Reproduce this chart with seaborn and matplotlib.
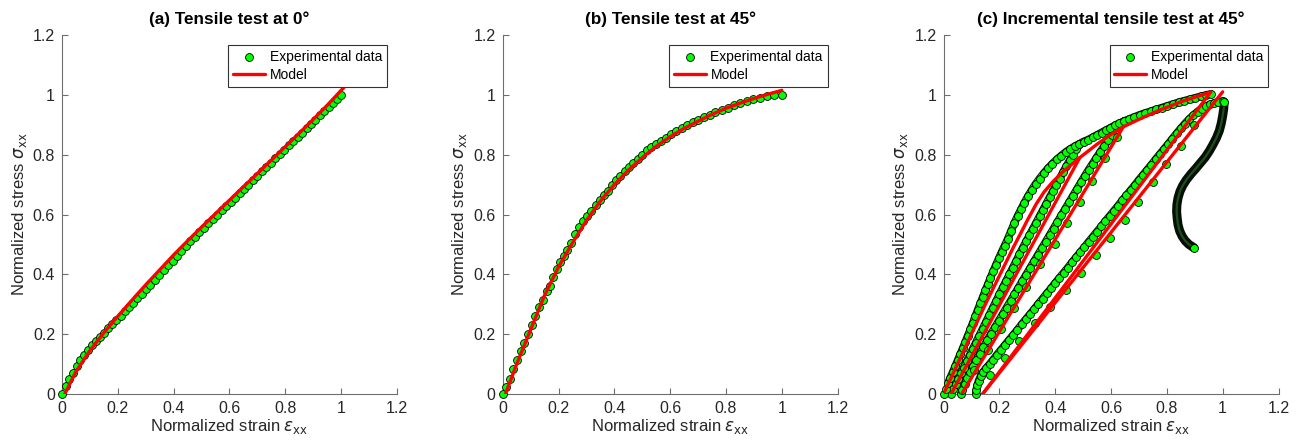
import matplotlib
matplotlib.use('Agg')
import matplotlib.pyplot as plt
import seaborn as sns

# ---------------- (a) tensile test at 0 deg ----------------
strain_a = [0, 0.013, 0.026, 0.039, 0.052, 0.066, 0.08, 0.094, 0.108, 0.122, 0.136, 0.15, 0.165, 0.18,
            0.195, 0.21, 0.225, 0.24, 0.255, 0.27, 0.285, 0.3, 0.316, 0.332, 0.348, 0.364, 0.38, 0.396,
            0.412, 0.428, 0.444, 0.46, 0.476, 0.492, 0.508, 0.524, 0.54, 0.556, 0.572, 0.588, 0.604,
            0.62, 0.636, 0.652, 0.668, 0.684, 0.7, 0.716, 0.732, 0.748, 0.764, 0.78, 0.796, 0.812,
            0.828, 0.844, 0.86, 0.876, 0.892, 0.908, 0.924, 0.94, 0.955, 0.97, 0.985, 1.0]
stress_a = [0, 0.028, 0.05, 0.07, 0.093, 0.112, 0.13, 0.148, 0.163, 0.178, 0.192, 0.205, 0.219, 0.233,
            0.247, 0.262, 0.276, 0.29, 0.305, 0.32, 0.335, 0.35, 0.366, 0.382, 0.398, 0.414, 0.43, 0.446,
            0.462, 0.478, 0.494, 0.51, 0.525, 0.54, 0.555, 0.57, 0.585, 0.6, 0.614, 0.627, 0.642,
            0.656, 0.671, 0.685, 0.7, 0.715, 0.73, 0.744, 0.759, 0.773, 0.788, 0.802, 0.816, 0.831,
            0.845, 0.86, 0.874, 0.888, 0.903, 0.917, 0.931, 0.946, 0.959, 0.973, 0.987, 1.0]
model_strain_a = [0.01, 0.05, 0.1, 0.15, 0.2, 0.25, 0.3, 0.35, 0.4, 0.45, 0.5, 0.55, 0.6, 0.65, 0.7,
                  0.75, 0.8, 0.85, 0.9, 0.95, 1.01]
model_stress_a = [0, 0.075, 0.145, 0.205, 0.26, 0.313, 0.365, 0.415, 0.465, 0.512, 0.558, 0.603, 0.648,
                  0.693, 0.737, 0.782, 0.827, 0.872, 0.918, 0.965, 1.025]

# ---------------- (b) tensile test at 45 deg ----------------
strain_b = [0, 0.012, 0.025, 0.038, 0.052, 0.065, 0.078, 0.091, 0.104, 0.117, 0.13, 0.143, 0.157, 0.17,
            0.18, 0.193, 0.205, 0.218, 0.232, 0.246, 0.26, 0.274, 0.289, 0.303, 0.318, 0.333, 0.347,
            0.362, 0.377, 0.392, 0.407, 0.422, 0.437, 0.452, 0.468, 0.484, 0.5, 0.516, 0.533, 0.55,
            0.567, 0.585, 0.603, 0.622, 0.641, 0.66, 0.68, 0.7, 0.72, 0.741, 0.762, 0.784, 0.806,
            0.828, 0.851, 0.874, 0.898, 0.922, 0.946, 0.972, 1.0]
stress_b = [0, 0.022, 0.05, 0.083, 0.113, 0.143, 0.172, 0.2, 0.23, 0.26, 0.29, 0.315, 0.345, 0.362,
            0.39, 0.418, 0.44, 0.462, 0.482, 0.505, 0.535, 0.558, 0.577, 0.594, 0.612, 0.631, 0.648,
            0.664, 0.68, 0.7, 0.716, 0.73, 0.744, 0.759, 0.771, 0.785, 0.8, 0.814, 0.825, 0.836,
            0.846, 0.857, 0.868, 0.879, 0.889, 0.899, 0.909, 0.917, 0.925, 0.933, 0.941, 0.949, 0.957,
            0.965, 0.973, 0.98, 0.986, 0.99, 0.995, 1.0, 1.0]
model_strain_b = [0.01, 0.05, 0.1, 0.15, 0.2, 0.25, 0.3, 0.35, 0.4, 0.45, 0.5, 0.55, 0.6, 0.65, 0.7,
                  0.75, 0.8, 0.85, 0.9, 0.95, 1.0]
model_stress_b = [0, 0.1, 0.215, 0.33, 0.425, 0.505, 0.58, 0.645, 0.7, 0.748, 0.79, 0.828, 0.86, 0.888,
                  0.912, 0.935, 0.955, 0.972, 0.988, 1.002, 1.015]

# ---------------- (c) incremental tensile test at 45 deg ----------------
# loading envelope (dense)
env_x = [0, 0.008, 0.016, 0.024, 0.033, 0.042, 0.051, 0.06, 0.069, 0.078, 0.087, 0.096, 0.105, 0.114,
         0.123, 0.132, 0.141, 0.15, 0.159, 0.168, 0.178, 0.188, 0.198, 0.208, 0.219, 0.23, 0.242, 0.254,
         0.266, 0.278, 0.29, 0.303, 0.316, 0.33, 0.344, 0.359, 0.374, 0.39, 0.406, 0.422, 0.438, 0.454,
         0.47, 0.486, 0.502, 0.518, 0.534, 0.55, 0.566, 0.582, 0.598, 0.614, 0.63, 0.646, 0.665, 0.684,
         0.703, 0.722, 0.742, 0.762, 0.782, 0.802, 0.822, 0.842, 0.862, 0.882, 0.902, 0.922, 0.94, 0.957]
env_y = [0, 0.018, 0.036, 0.054, 0.073, 0.093, 0.113, 0.133, 0.153, 0.174, 0.195, 0.216, 0.238, 0.26,
         0.282, 0.303, 0.325, 0.346, 0.367, 0.388, 0.41, 0.432, 0.453, 0.474, 0.496, 0.518, 0.545, 0.572,
         0.596, 0.618, 0.64, 0.662, 0.682, 0.702, 0.72, 0.738, 0.754, 0.77, 0.784, 0.797, 0.809, 0.819,
         0.828, 0.836, 0.844, 0.85, 0.858, 0.866, 0.874, 0.882, 0.89, 0.898, 0.905, 0.912, 0.919, 0.926,
         0.933, 0.939, 0.945, 0.951, 0.957, 0.963, 0.969, 0.975, 0.98, 0.985, 0.99, 0.995, 0.999, 1.003]
# reloading after cycle 1 (dense)
rel1_x = [0.026, 0.034, 0.043, 0.052, 0.062, 0.072, 0.083, 0.094, 0.105, 0.116, 0.128, 0.14, 0.152,
          0.164, 0.176, 0.188, 0.2, 0.212, 0.224, 0.236, 0.248, 0.26, 0.272, 0.284, 0.296, 0.308, 0.32,
          0.332, 0.344, 0.356, 0.368, 0.38, 0.392, 0.404, 0.416, 0.428, 0.44, 0.452, 0.464, 0.476, 0.486]
rel1_y = [0, 0.016, 0.033, 0.05, 0.069, 0.088, 0.109, 0.13, 0.151, 0.172, 0.195, 0.218, 0.241, 0.264,
          0.287, 0.31, 0.333, 0.356, 0.378, 0.4, 0.422, 0.444, 0.467, 0.489, 0.51, 0.531, 0.552, 0.573,
          0.594, 0.615, 0.636, 0.657, 0.678, 0.699, 0.72, 0.741, 0.761, 0.781, 0.8, 0.818, 0.834]
# reloading after cycle 2 (dense)
rel2_x = [0.062, 0.068, 0.076, 0.085, 0.095, 0.106, 0.118, 0.13, 0.143, 0.156, 0.17, 0.184, 0.198,
          0.212, 0.226, 0.24, 0.254, 0.268, 0.282, 0.296, 0.31, 0.324, 0.338, 0.352, 0.366, 0.38,
          0.394, 0.408, 0.422, 0.436, 0.45, 0.464, 0.478, 0.492, 0.506, 0.52, 0.534, 0.548, 0.562,
          0.576, 0.59, 0.604, 0.618, 0.632, 0.646]
rel2_y = [0, 0.015, 0.033, 0.052, 0.072, 0.093, 0.114, 0.135, 0.157, 0.179, 0.201, 0.223, 0.245,
          0.267, 0.289, 0.311, 0.333, 0.355, 0.377, 0.399, 0.421, 0.443, 0.465, 0.487, 0.509, 0.531,
          0.553, 0.575, 0.597, 0.619, 0.641, 0.663, 0.685, 0.707, 0.729, 0.75, 0.77, 0.79, 0.81,
          0.829, 0.848, 0.866, 0.883, 0.899, 0.912]
# reloading after cycle 3 up to the maximum (dense)
rel3_x = [0.116, 0.118, 0.121, 0.126, 0.133, 0.142, 0.153, 0.165, 0.178, 0.192, 0.206, 0.22, 0.235,
          0.25, 0.265, 0.28, 0.295, 0.31, 0.325, 0.34, 0.355, 0.37, 0.385, 0.4, 0.415, 0.43, 0.445,
          0.46, 0.475, 0.49, 0.505, 0.52, 0.535, 0.55, 0.565, 0.58, 0.595, 0.61, 0.625, 0.64, 0.655,
          0.67, 0.685, 0.7, 0.715, 0.73, 0.745, 0.76, 0.775, 0.79, 0.805, 0.82, 0.835, 0.85, 0.865,
          0.88, 0.895, 0.91, 0.925, 0.94, 0.955, 0.97, 0.985, 1.0, 1.005]
rel3_y = [0, 0.015, 0.03, 0.045, 0.06, 0.074, 0.087, 0.1, 0.115, 0.132, 0.148, 0.164, 0.181, 0.198,
          0.215, 0.233, 0.25, 0.267, 0.284, 0.302, 0.319, 0.336, 0.353, 0.371, 0.388, 0.405, 0.422,
          0.44, 0.457, 0.474, 0.491, 0.509, 0.526, 0.543, 0.56, 0.578, 0.595, 0.612, 0.629, 0.647,
          0.664, 0.681, 0.698, 0.716, 0.733, 0.75, 0.767, 0.785, 0.802, 0.819, 0.836, 0.854, 0.871,
          0.888, 0.904, 0.919, 0.932, 0.944, 0.954, 0.962, 0.968, 0.973, 0.977, 0.979, 0.977]
# post-peak softening (very dense)
fail_x = [1.005, 1.004, 1.0, 0.995, 0.988, 0.978, 0.966, 0.952, 0.937, 0.92, 0.903, 0.886, 0.87, 0.857,
          0.847, 0.84, 0.836, 0.835, 0.837, 0.84, 0.846, 0.855, 0.866, 0.879, 0.897]
fail_y = [0.975, 0.955, 0.93, 0.905, 0.88, 0.857, 0.835, 0.812, 0.791, 0.772, 0.753, 0.735, 0.716, 0.697,
          0.677, 0.655, 0.632, 0.61, 0.588, 0.566, 0.545, 0.527, 0.512, 0.5, 0.489]
# unloading branches (sparse)
unl2_x = [0.11, 0.158, 0.206, 0.254, 0.297, 0.347, 0.398, 0.444, 0.488, 0.533, 0.58, 0.62]
unl2_y = [0.08, 0.148, 0.218, 0.287, 0.357, 0.433, 0.5, 0.571, 0.643, 0.713, 0.79, 0.86]
unl3_x = [0.168, 0.22, 0.272, 0.326, 0.383, 0.437, 0.492, 0.545, 0.596, 0.65, 0.698, 0.75, 0.798,
          0.849, 0.897]
unl3_y = [0.064, 0.122, 0.176, 0.237, 0.29, 0.346, 0.405, 0.463, 0.522, 0.582, 0.642, 0.707, 0.768,
          0.83, 0.9]
# model
model_env_x = [0, 0.05, 0.1, 0.15, 0.2, 0.25, 0.278, 0.3, 0.332, 0.36, 0.392, 0.43, 0.46, 0.488, 0.55,
               0.6, 0.644, 0.7, 0.777, 0.86, 0.957]
model_env_y = [0, 0.1, 0.2, 0.3, 0.395, 0.49, 0.54, 0.58, 0.635, 0.675, 0.71, 0.745, 0.768, 0.79, 0.835,
               0.868, 0.893, 0.918, 0.95, 0.98, 1.009]
model_cyc1_x = [0.027, 0.488]
model_cyc1_y = [0, 0.79]
model_cyc2_x = [0.065, 0.644]
model_cyc2_y = [0, 0.893]
model_cyc3_x = [0.14, 0.957]
model_cyc3_y = [0, 1.009]
model_last_x = [0.14, 1.0]
model_last_y = [0, 1.01]

# ---------------- style ----------------
sns.set_theme(style='white')
plt.rcParams['font.family'] = ['Liberation Sans', 'DejaVu Sans']
plt.rcParams['mathtext.fontset'] = 'dejavusans'

GREEN = '#00ff00'
RED = '#ff0000'
AXC = '#6e6e6e'
TXT = '#262626'
MS = 32

fig = plt.figure(figsize=(13.05, 4.43), dpi=100)
lefts = [0.0475, 0.3852, 0.7230]
axes = [fig.add_axes([l, 0.1106, 0.2567, 0.8104]) for l in lefts]
titles = ['(a) Tensile test at 0°', '(b) Tensile test at 45°', '(c) Incremental tensile test at 45°']


def dots(ax, x, y, label=None):
    sns.scatterplot(x=x, y=y, ax=ax, s=MS, color=GREEN, edgecolor='black', linewidth=0.6,
                    zorder=3, clip_on=False, legend=False, label=label)


def model(ax, x, y, label=None):
    sns.lineplot(x=x, y=y, ax=ax, sort=False, estimator=None, color=RED, lw=2.4, zorder=5,
                 label=label, legend=False)


def band(ax, x, y):
    # dense measurement: overlapping markers look like a thick outlined band
    sns.lineplot(x=x, y=y, ax=ax, sort=False, estimator=None, color='#101010', lw=5.6, zorder=2,
                 legend=False)
    sns.lineplot(x=x, y=y, ax=ax, sort=False, estimator=None, color='#00e600', lw=4.2, zorder=2,
                 legend=False)
    dots(ax, x, y)


ax = axes[0]
dots(ax, strain_a, stress_a, 'Experimental data')
model(ax, model_strain_a, model_stress_a, 'Model')

ax = axes[1]
dots(ax, strain_b, stress_b, 'Experimental data')
model(ax, model_strain_b, model_stress_b, 'Model')

ax = axes[2]
for bx, by in [(rel3_x, rel3_y), (rel2_x, rel2_y), (rel1_x, rel1_y), (env_x, env_y)]:
    band(ax, bx, by)
sns.lineplot(x=fail_x, y=fail_y, ax=ax, sort=False, estimator=None, color='#050f05', lw=6.5,
             zorder=2, legend=False)
sns.lineplot(x=fail_x, y=fail_y, ax=ax, sort=False, estimator=None, color='#1d4f1d', lw=1.6,
             zorder=2, legend=False)
dots(ax, fail_x[-1:], fail_y[-1:])
dots(ax, unl2_x, unl2_y)
dots(ax, unl3_x, unl3_y, 'Experimental data')
model(ax, model_env_x, model_env_y, 'Model')
for mx, my in [(model_cyc1_x, model_cyc1_y), (model_cyc2_x, model_cyc2_y),
               (model_cyc3_x, model_cyc3_y), (model_last_x, model_last_y)]:
    model(ax, mx, my)

ticks = [0, 0.2, 0.4, 0.6, 0.8, 1, 1.2]
tick_labels = ['0', '0.2', '0.4', '0.6', '0.8', '1', '1.2']
for ax, t in zip(axes, titles):
    ax.set_xlim(0, 1.2)
    ax.set_ylim(0, 1.2)
    ax.set_xticks(ticks)
    ax.set_yticks(ticks)
    ax.set_xticklabels(tick_labels)
    ax.set_yticklabels(tick_labels)
    ax.tick_params(direction='in', length=4, width=0.8, colors=AXC, labelcolor=TXT,
                   labelsize=11.5, left=True, bottom=True, pad=5)
    for s in ['top', 'right']:
        ax.spines[s].set_visible(False)
    for s in ['left', 'bottom']:
        ax.spines[s].set_color(AXC)
        ax.spines[s].set_linewidth(0.8)
    ax.set_xlabel(r'Normalized strain $\epsilon_{\mathrm{xx}}$', fontsize=12, color=TXT, labelpad=1)
    ax.set_ylabel(r'Normalized stress $\sigma_{\mathrm{xx}}$', fontsize=12, color=TXT, labelpad=3)
    ax.set_title(t, fontsize=12.3, fontweight='bold', color='black', pad=8)

    # legend: experimental data first, model second
    h, l = ax.get_legend_handles_labels()
    order = [l.index('Experimental data'), l.index('Model')]
    leg = ax.legend([h[i] for i in order], [l[i] for i in order], loc='upper right',
                    bbox_to_anchor=(0.97, 0.972), borderaxespad=0, fontsize=10, frameon=True,
                    fancybox=False, framealpha=1, edgecolor='#333333', handlelength=2.3,
                    handletextpad=0.35, borderpad=0.35, labelspacing=0.3, scatterpoints=1)
    leg.get_frame().set_linewidth(0.8)
    for txt in leg.get_texts():
        txt.set_color('black')

fig.savefig('out.png', dpi=100)
